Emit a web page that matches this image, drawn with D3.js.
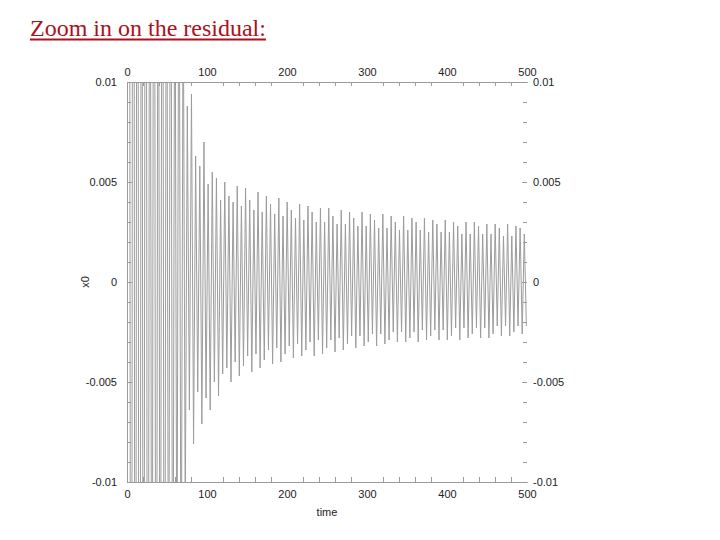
<!DOCTYPE html>
<html>
<head>
<meta charset="utf-8">
<script src="https://cdn.jsdelivr.net/npm/d3@7"></script>
<style>
    body { margin: 0; background: #fff; }
    .axis text { font-family: "Liberation Sans", Arial, sans-serif; font-size: 11px; fill: #222; }
    .axis line, .axis path { stroke: #9a9a9a; }
</style>
</head>
<body>
<svg id="chart" width="720" height="540"></svg>
<script>
const title = "Zoom in on the residual:";
const xLabel = "time";
const yLabel = "x0";

const xTicks = [0, 100, 200, 300, 400, 500];
const xTickLabels = ["0", "100", "200", "300", "400", "500"];
const xMinorTicks = [20, 40, 60, 80, 120, 140, 160, 180, 220, 240, 260, 280, 320, 340, 360, 380, 420, 440, 460, 480];
const yTicks = [-0.01, -0.005, 0, 0.005, 0.01];
const yTickLabels = ["-0.01", "-0.005", "0", "0.005", "0.01"];
const yMinorTicks = [-0.009, -0.008, -0.007, -0.006, -0.004, -0.003, -0.002, -0.001,
    0.001, 0.002, 0.003, 0.004, 0.006, 0.007, 0.008, 0.009];

// upper turning points of x0 (early ones run off the plot)
const peakTime = [2.6, 7.8, 13, 18.2, 23.4, 28.6, 33.8, 39, 44.2, 49.4, 54.6, 59.8, 65, 70.2,
    75.4, 80.6, 85.8, 91, 96.2, 101.4, 106.6, 111.8, 117, 122.2, 127.4, 132.6, 137.8, 143, 148.2,
    153.4, 158.6, 163.8, 169, 174.2, 179.4, 184.6, 189.8, 195, 200.2, 205.4, 210.6, 215.8, 221,
    226.2, 231.4, 236.6, 241.8, 247, 252.2, 257.4, 262.6, 267.8, 273, 278.2, 283.4, 288.6, 293.8,
    299, 304.2, 309.4, 314.6, 319.8, 325, 330.2, 335.4, 340.6, 345.8, 351, 356.2, 361.4, 366.6,
    371.8, 377, 382.2, 387.4, 392.6, 397.8, 403, 408.2, 413.4, 418.6, 423.8, 429, 434.2, 439.4,
    444.6, 449.8, 455, 460.2, 465.4, 470.6, 475.8, 481, 486.2, 491.4, 496.6];
const peakValue = [0.048, 0.062, 0.055, 0.041, 0.052, 0.037, 0.044, 0.031, 0.036, 0.027, 0.029, 0.021, 0.023, 0.016,
    0.0088, 0.0094, 0.0063, 0.0058, 0.0070, 0.0049, 0.0055, 0.0052, 0.0041, 0.0050, 0.0043, 0.0040, 0.0048, 0.0038, 0.0047,
    0.0041, 0.0036, 0.0045, 0.0035, 0.0043, 0.0039, 0.0034, 0.0042, 0.0033, 0.0040, 0.0036, 0.0032, 0.0039, 0.0031,
    0.0038, 0.0035, 0.0030, 0.0037, 0.0030, 0.0037, 0.0033, 0.0029, 0.0036, 0.0029, 0.0035, 0.0032, 0.0028, 0.0035,
    0.0028, 0.0034, 0.0031, 0.0027, 0.0034, 0.0027, 0.0033, 0.0030, 0.0026, 0.0033, 0.0026, 0.0032, 0.0030, 0.0026,
    0.0032, 0.0025, 0.0031, 0.0029, 0.0025, 0.0031, 0.0025, 0.0030, 0.0028, 0.0024, 0.0030, 0.0024, 0.0030, 0.0028,
    0.0024, 0.0029, 0.0024, 0.0029, 0.0027, 0.0023, 0.0029, 0.0023, 0.0028, 0.0027, 0.0024];

// lower turning points of x0
const troughTime = [0, 5.2, 10.4, 15.6, 20.8, 26, 31.2, 36.4, 41.6, 46.8, 52, 57.2, 62.4, 67.6,
    72.8, 78, 83.2, 88.4, 93.6, 98.8, 104, 109.2, 114.4, 119.6, 124.8, 130, 135.2, 140.4, 145.6,
    150.8, 156, 161.2, 166.4, 171.6, 176.8, 182, 187.2, 192.4, 197.6, 202.8, 208, 213.2, 218.4,
    223.6, 228.8, 234, 239.2, 244.4, 249.6, 254.8, 260, 265.2, 270.4, 275.6, 280.8, 286, 291.2,
    296.4, 301.6, 306.8, 312, 317.2, 322.4, 327.6, 332.8, 338, 343.2, 348.4, 353.6, 358.8, 364,
    369.2, 374.4, 379.6, 384.8, 390, 395.2, 400.4, 405.6, 410.8, 416, 421.2, 426.4, 431.6, 436.8,
    442, 447.2, 452.4, 457.6, 462.8, 468, 473.2, 478.4, 483.6, 488.8, 494, 499.2];
const troughValue = [0, -0.058, -0.05, -0.06, -0.045, -0.049, -0.034, -0.04, -0.03, -0.033, -0.024, -0.026, -0.018, -0.02,
    -0.0115, -0.0064, -0.0081, -0.0055, -0.0071, -0.0058, -0.0064, -0.0050, -0.0057, -0.0046, -0.0043, -0.0050, -0.0040, -0.0047, -0.0042,
    -0.0037, -0.0045, -0.0036, -0.0043, -0.0039, -0.0034, -0.0041, -0.0033, -0.0040, -0.0036, -0.0032, -0.0038, -0.0031, -0.0037,
    -0.0034, -0.0030, -0.0037, -0.0029, -0.0036, -0.0033, -0.0029, -0.0035, -0.0028, -0.0034, -0.0031, -0.0027, -0.0033, -0.0027,
    -0.0032, -0.0030, -0.0026, -0.0032, -0.0026, -0.0031, -0.0029, -0.0025, -0.0030, -0.0025, -0.0030, -0.0028, -0.0025, -0.0030,
    -0.0024, -0.0029, -0.0027, -0.0024, -0.0029, -0.0024, -0.0029, -0.0027, -0.0023, -0.0029, -0.0023, -0.0028, -0.0026, -0.0023,
    -0.0028, -0.0023, -0.0028, -0.0026, -0.0022, -0.0027, -0.0022, -0.0027, -0.0025, -0.0022, -0.0026, -0.0022];

const plot = { left: 127, right: 527, top: 82, bottom: 482 };

const svg = d3.select("#chart");

// title, underlined like a link
const titleText = svg.append("text")
    .attr("x", 30)
    .attr("y", 36)
    .attr("font-family", "'Liberation Serif', 'Times New Roman', serif")
    .attr("font-size", 24)
    .attr("fill", "#ad111b")
    .text(title);
svg.append("line")
    .attr("x1", 30).attr("x2", 30 + titleText.node().getComputedTextLength())
    .attr("y1", 39.5).attr("y2", 39.5)
    .attr("stroke", "#ad111b")
    .attr("stroke-width", 2);

const x = d3.scaleLinear().domain([0, 500]).range([plot.left, plot.right]);
const y = d3.scaleLinear().domain([-0.01, 0.01]).range([plot.bottom, plot.top]);

// merge the turning points into one series
const series = peakTime.map((t, i) => ({ t: t, v: peakValue[i] }))
    .concat(troughTime.map((t, i) => ({ t: t, v: troughValue[i] })))
    .sort((a, b) => a.t - b.t);

svg.append("clipPath")
    .attr("id", "clip")
    .append("rect")
    .attr("x", plot.left)
    .attr("y", plot.top)
    .attr("width", plot.right - plot.left)
    .attr("height", plot.bottom - plot.top);

const line = d3.line()
    .x(d => x(d.t))
    .y(d => y(d.v));

svg.append("path")
    .datum(series)
    .attr("clip-path", "url(#clip)")
    .attr("fill", "none")
    .attr("stroke", "#9c9c9c")
    .attr("stroke-width", 1)
    .attr("d", line);

// axes: labels on the major values, small inward ticks on the minor ones
const fmtX = d => xTickLabels[xTicks.indexOf(d)];
const fmtY = d => yTickLabels[yTicks.indexOf(d)];

function addAxis(axis, tx, ty) {
    return svg.append("g")
        .attr("class", "axis")
        .attr("transform", `translate(${tx},${ty})`)
        .call(axis);
}

addAxis(d3.axisBottom(x).tickValues(xTicks).tickFormat(fmtX).tickSize(0).tickPadding(8), 0, plot.bottom);
addAxis(d3.axisTop(x).tickValues(xTicks).tickFormat(fmtX).tickSize(0).tickPadding(6), 0, plot.top);
addAxis(d3.axisBottom(x).tickValues(xMinorTicks).tickFormat("").tickSizeInner(-5).tickSizeOuter(0), 0, plot.bottom);
addAxis(d3.axisTop(x).tickValues(xMinorTicks).tickFormat("").tickSizeInner(-4).tickSizeOuter(0), 0, plot.top);

addAxis(d3.axisLeft(y).tickValues(yTicks).tickFormat(fmtY).tickSizeInner(-5).tickSizeOuter(0).tickPadding(10), plot.left, 0);
addAxis(d3.axisLeft(y).tickValues(yMinorTicks).tickFormat("").tickSizeInner(-4).tickSizeOuter(0), plot.left, 0);
const right = addAxis(d3.axisRight(y).tickValues(yTicks).tickFormat(fmtY).tickSizeInner(-5).tickSizeOuter(0).tickPadding(6), plot.right, 0);
const rightMinor = addAxis(d3.axisRight(y).tickValues(yMinorTicks).tickFormat("").tickSizeInner(-4).tickSizeOuter(0), plot.right, 0);
right.select(".domain").remove();
rightMinor.select(".domain").remove();

// axis titles
svg.append("text")
    .attr("x", (plot.left + plot.right) / 2)
    .attr("y", 516)
    .attr("text-anchor", "middle")
    .attr("font-family", "'Liberation Sans', Arial, sans-serif")
    .attr("font-size", 11)
    .attr("fill", "#222")
    .text(xLabel);

svg.append("text")
    .attr("transform", `translate(89,${(plot.top + plot.bottom) / 2}) rotate(-90)`)
    .attr("text-anchor", "middle")
    .attr("font-family", "'Liberation Sans', Arial, sans-serif")
    .attr("font-size", 11)
    .attr("fill", "#222")
    .text(yLabel);
</script>
</body>
</html>
